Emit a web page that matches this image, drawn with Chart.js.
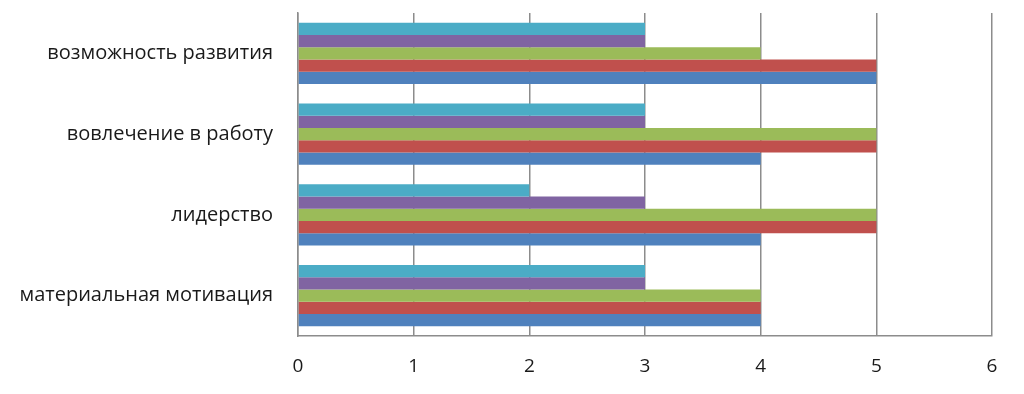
<!DOCTYPE html>
<html><head><meta charset="utf-8">
<script src="https://cdn.jsdelivr.net/npm/chart.js@4/dist/chart.umd.min.js"></script>
<style>html,body{margin:0;padding:0;background:#fff;}#wrap{width:1024px;height:394px;}</style>
</head><body><div id="wrap"><canvas id="c" width="1024" height="394"></canvas></div>
<script>
const categories = ['возможность развития','вовлечение в работу','лидерство','материальная мотивация'];
const seriesCyan   = [3,3,2,3];
const seriesPurple = [3,3,3,3];
const seriesGreen  = [4,5,5,4];
const seriesRed    = [5,5,5,4];
const seriesBlue   = [5,4,4,4];
const xTicks = [0,1,2,3,4,5,6];

const FONT = "'Open Sans', sans-serif";
new Chart(document.getElementById('c'), {
  type: 'bar',
  data: {
    labels: categories,
    datasets: [
      {label:'s5', data: seriesCyan, backgroundColor:'#4BACC6'},
      {label:'s4', data: seriesPurple, backgroundColor:'#8064A2'},
      {label:'s3', data: seriesGreen, backgroundColor:'#9BBB59'},
      {label:'s2', data: seriesRed, backgroundColor:'#C0504D'},
      {label:'s1', data: seriesBlue, backgroundColor:'#4F81BD'}
    ]
  },
  options: {
    indexAxis: 'y',
    responsive: false,
    animation: false,
    datasets: { bar: { categoryPercentage: 0.76, barPercentage: 1.0, borderWidth: 0 } },
    layout: { padding: { top: 13, right: 32, left: 0, bottom: 0 } },
    plugins: { legend: { display: false }, tooltip: { enabled: false } },
    scales: {
      x: {
        min: 0, max: 6,
        afterBuildTicks: (s) => { s.ticks = xTicks.map(v => ({value: v})); },
        grid: { color: '#8c8c8c', lineWidth: 1.5, drawTicks: false },
        border: { color: '#8c8c8c', width: 1.5 },
        ticks: { color: '#1a1a1a', font: { family: FONT, size: 19 }, padding: 19 },
        afterFit: (s) => { s.height = 58; s.paddingTop = 0; s.paddingBottom = 0; }
      },
      y: {
        grid: { display: false, drawTicks: false },
        border: { color: '#8c8c8c', width: 1.5 },
        ticks: { color: '#1a1a1a', font: { family: FONT, size: 20 }, padding: 25 },
        afterFit: (s) => { s.width = 298; s.paddingTop = 0; s.paddingBottom = 0; }
      }
    }
  }
});
</script></body></html>
